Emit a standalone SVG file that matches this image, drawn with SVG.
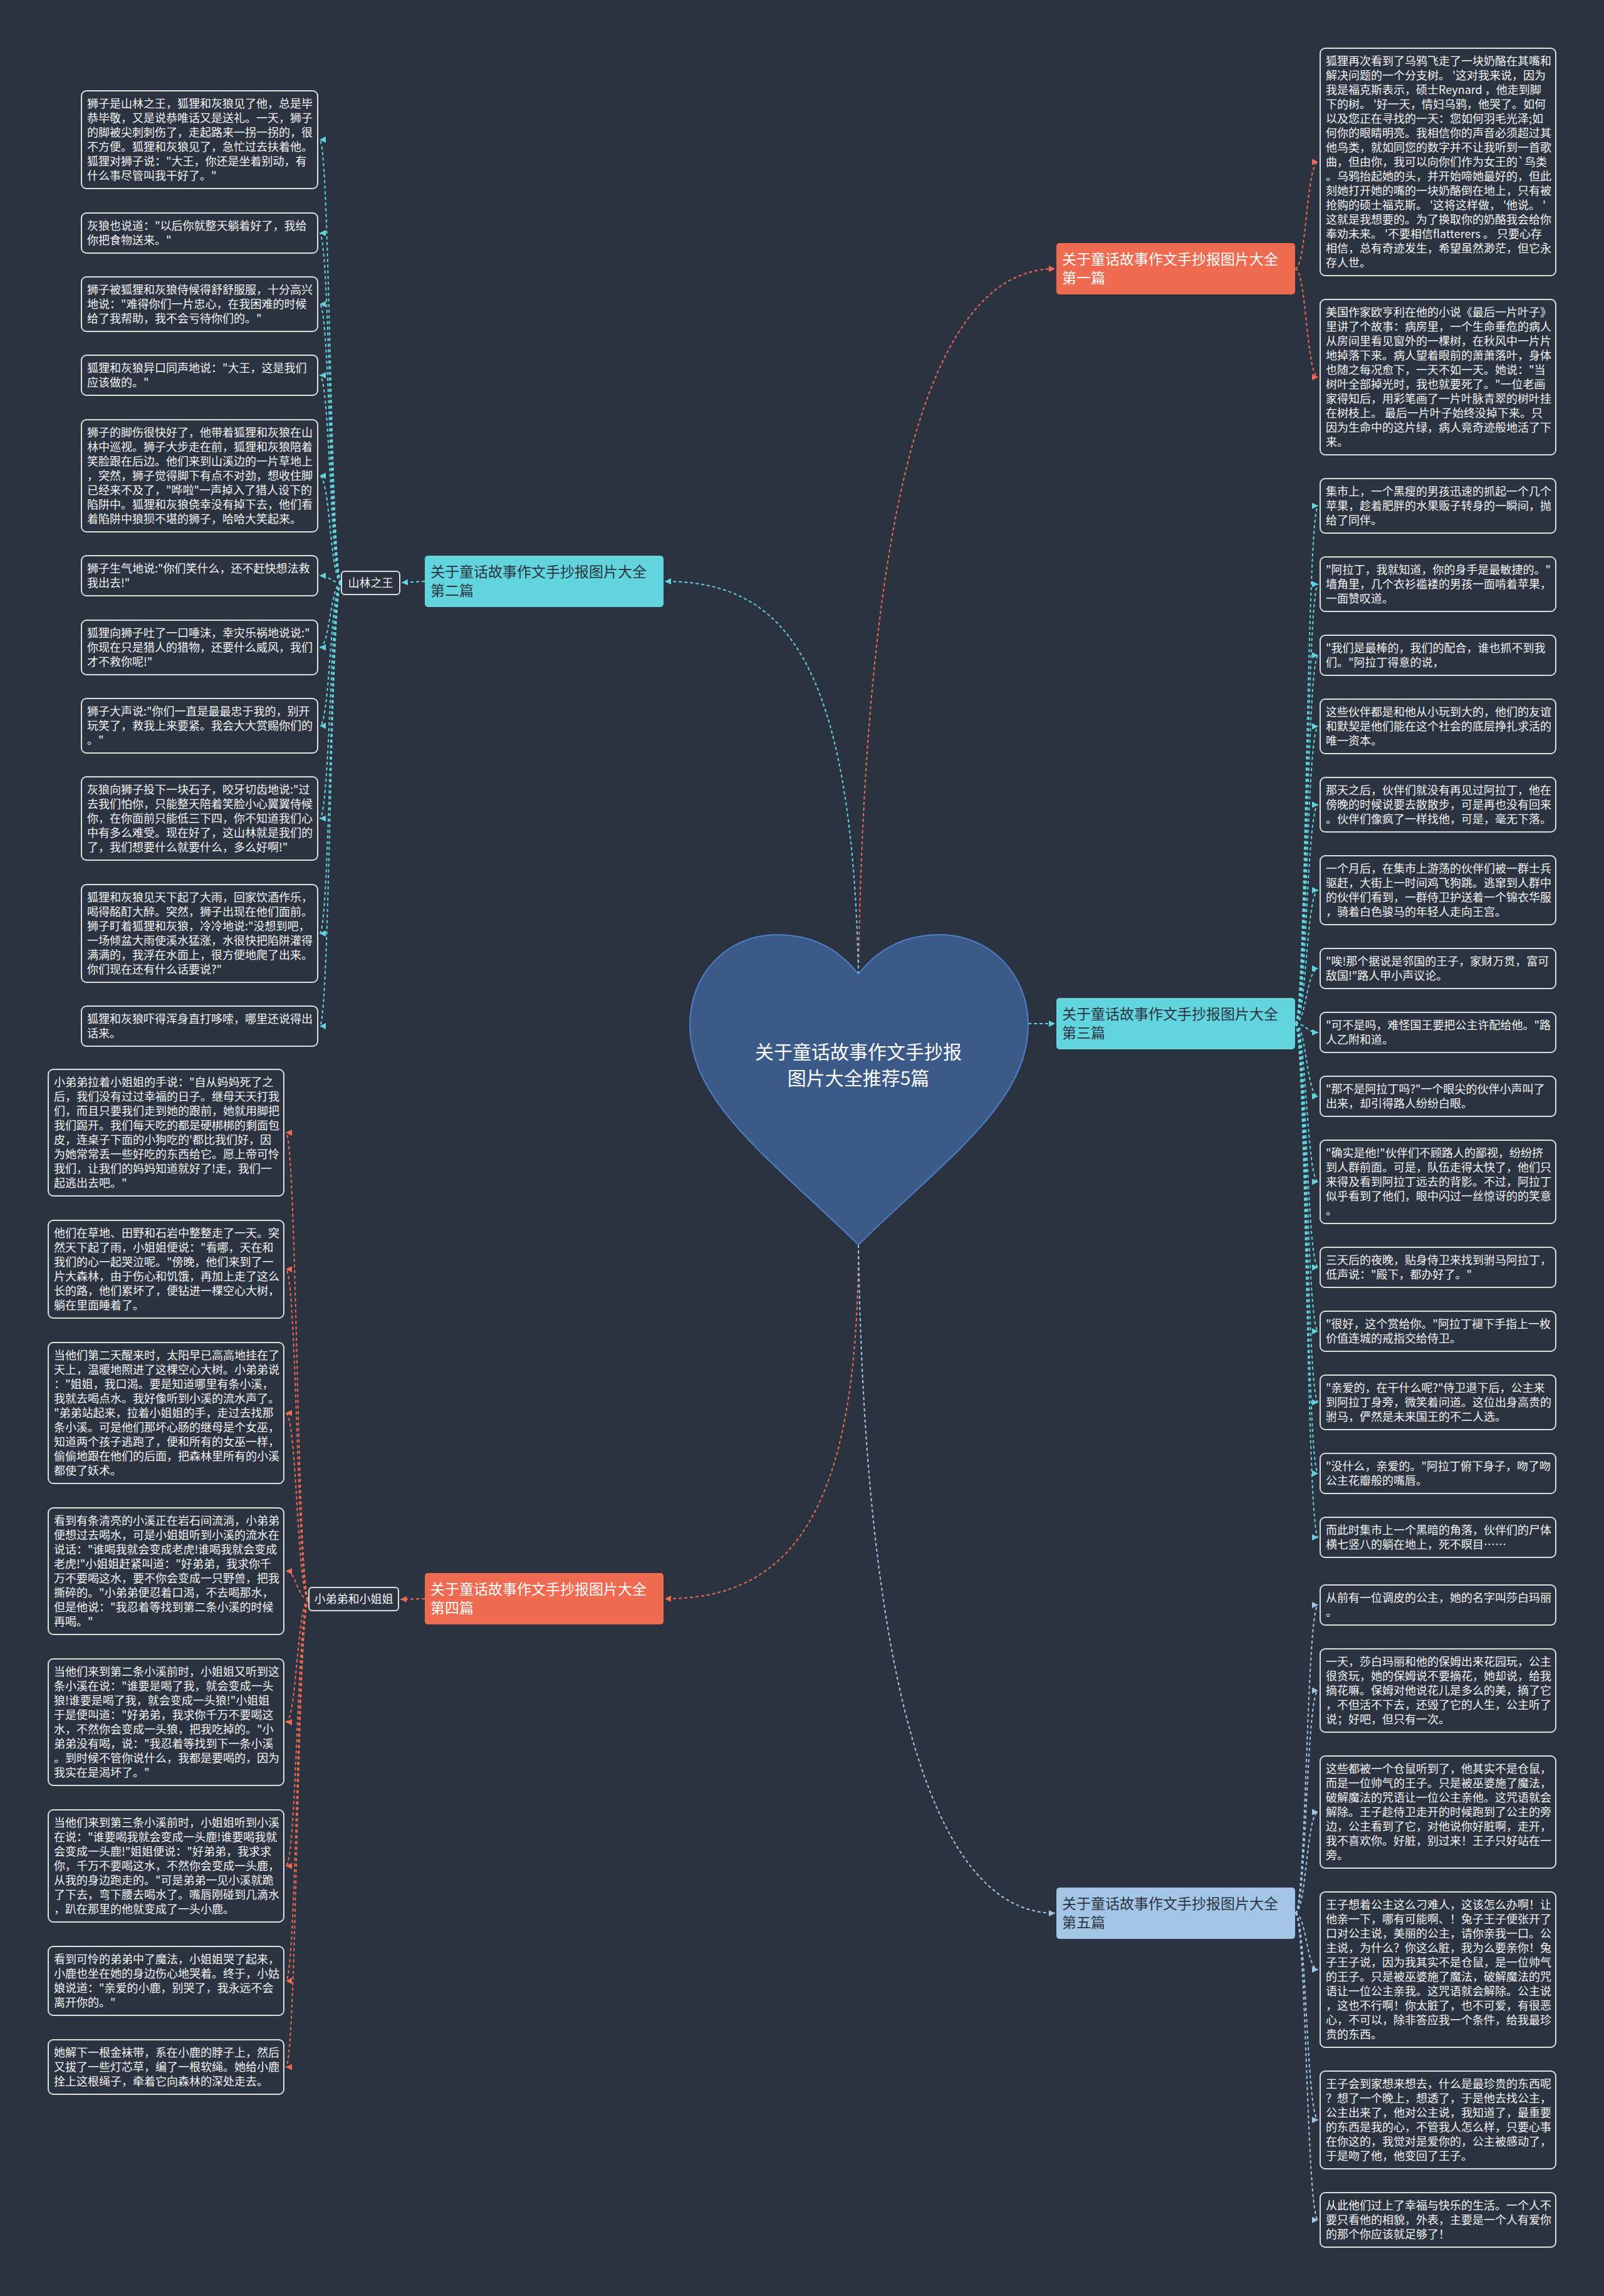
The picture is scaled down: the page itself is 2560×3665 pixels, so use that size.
<svg xmlns="http://www.w3.org/2000/svg" width="2560" height="3665" viewBox="0 0 2560 3665">
<style>
text{font-family:"Noto Sans CJK SC","Noto Sans",sans-serif}
.bg{fill:#2c3340}
.leaf rect{fill:#2c3340;stroke:#dedede;stroke-width:2}
.leaf text{font-size:18px;fill:#f2f2f2}
.lab rect{fill:#2c3340;stroke:#dedede;stroke-width:2}
.lab text{font-size:18px;fill:#f2f2f2;text-anchor:middle}
.br text{font-size:23px}
.red rect{fill:#ee6a50}
.red text{fill:#ffffff}
.cyan rect{fill:#62d4de}
.cyan text{fill:#2c3340}
.lblue rect{fill:#a3c6e6}
.lblue text{fill:#2c3340}
.c{fill:none;stroke-width:2;stroke-dasharray:5 4}
.cr{stroke:#ee6a50;marker-end:url(#mr)}
.cc{stroke:#62d4de;marker-end:url(#mc)}
.cb{stroke:#a3c6e6;marker-end:url(#mb)}
.heart text{font-size:30px;fill:#ffffff;text-anchor:middle}
</style>
<defs>
<marker id="mr" viewBox="0 0 10 10" refX="10" refY="5" markerWidth="10" markerHeight="11" markerUnits="userSpaceOnUse" orient="auto"><path d="M0,0 L10,5 L0,10 z" fill="#ee6a50"/></marker>
<marker id="mc" viewBox="0 0 10 10" refX="10" refY="5" markerWidth="10" markerHeight="11" markerUnits="userSpaceOnUse" orient="auto"><path d="M0,0 L10,5 L0,10 z" fill="#62d4de"/></marker>
<marker id="mb" viewBox="0 0 10 10" refX="10" refY="5" markerWidth="10" markerHeight="11" markerUnits="userSpaceOnUse" orient="auto"><path d="M0,0 L10,5 L0,10 z" fill="#a3c6e6"/></marker>
</defs>
<rect class="bg" x="0" y="0" width="2560" height="3665"/>

<g id="connectors">
<path class="c cr" d="M1370,1555 C1380,900 1460,429 1684,429"/>
<path class="c cc" d="M1370,1555 C1360,1050 1250,928 1061,928"/>
<path class="c cc" d="M1641,1634 C1660,1634 1665,1634 1684,1634"/>
<path class="c cr" d="M1370,1987 C1370,2420 1260,2552 1061,2552"/>
<path class="c cb" d="M1370,1987 C1380,2650 1480,3054 1684,3054"/>

<path class="c cr" d="M2067,429 C2085,429 2085,258.5 2104,258.5"/>
<path class="c cr" d="M2067,429 C2085,429 2085,602 2104,602"/>

<path class="c cc" d="M678,928 L641,930"/>
<path class="c cc" d="M545,930 C527,930 527,223 510,223"/>
<path class="c cc" d="M545,930 C527,930 527,372 510,372"/>
<path class="c cc" d="M545,930 C527,930 527,485.5 510,485.5"/>
<path class="c cc" d="M545,930 C527,930 527,599 510,599"/>
<path class="c cc" d="M545,930 C527,930 527,759.5 510,759.5"/>
<path class="c cc" d="M545,930 C527,930 527,919 510,919"/>
<path class="c cc" d="M545,930 C527,930 527,1033.5 510,1033.5"/>
<path class="c cc" d="M545,930 C527,930 527,1158.5 510,1158.5"/>
<path class="c cc" d="M545,930 C527,930 527,1306.5 510,1306.5"/>
<path class="c cc" d="M545,930 C527,930 527,1490 510,1490"/>
<path class="c cc" d="M545,930 C527,930 527,1638 510,1638"/>

<path class="c cc" d="M2067,1634 C2085,1634 2085,807.5 2104,807.5"/>
<path class="c cc" d="M2067,1634 C2085,1634 2085,932.5 2104,932.5"/>
<path class="c cc" d="M2067,1634 C2085,1634 2085,1046 2104,1046"/>
<path class="c cc" d="M2067,1634 C2085,1634 2085,1159.5 2104,1159.5"/>
<path class="c cc" d="M2067,1634 C2085,1634 2085,1284.5 2104,1284.5"/>
<path class="c cc" d="M2067,1634 C2085,1634 2085,1421 2104,1421"/>
<path class="c cc" d="M2067,1634 C2085,1634 2085,1546 2104,1546"/>
<path class="c cc" d="M2067,1634 C2085,1634 2085,1648 2104,1648"/>
<path class="c cc" d="M2067,1634 C2085,1634 2085,1750 2104,1750"/>
<path class="c cc" d="M2067,1634 C2085,1634 2085,1886.5 2104,1886.5"/>
<path class="c cc" d="M2067,1634 C2085,1634 2085,2023 2104,2023"/>
<path class="c cc" d="M2067,1634 C2085,1634 2085,2125 2104,2125"/>
<path class="c cc" d="M2067,1634 C2085,1634 2085,2238.5 2104,2238.5"/>
<path class="c cc" d="M2067,1634 C2085,1634 2085,2352 2104,2352"/>
<path class="c cc" d="M2067,1634 C2085,1634 2085,2454 2104,2454"/>

<path class="c cr" d="M678,2552 L639,2553"/>
<path class="c cr" d="M493,2553 C474,2553 474,1808 456,1808"/>
<path class="c cr" d="M493,2553 C474,2553 474,2026 456,2026"/>
<path class="c cr" d="M493,2553 C474,2553 474,2255.5 456,2255.5"/>
<path class="c cr" d="M493,2553 C474,2553 474,2508 456,2508"/>
<path class="c cr" d="M493,2553 C474,2553 474,2749 456,2749"/>
<path class="c cr" d="M493,2553 C474,2553 474,2978.5 456,2978.5"/>
<path class="c cr" d="M493,2553 C474,2553 474,3162 456,3162"/>
<path class="c cr" d="M493,2553 C474,2553 474,3299.5 456,3299.5"/>

<path class="c cb" d="M2067,3054 C2085,3054 2085,2562 2104,2562"/>
<path class="c cb" d="M2067,3054 C2085,3054 2085,2698.5 2104,2698.5"/>
<path class="c cb" d="M2067,3054 C2085,3054 2085,2892.5 2104,2892.5"/>
<path class="c cb" d="M2067,3054 C2085,3054 2085,3144 2104,3144"/>
<path class="c cb" d="M2067,3054 C2085,3054 2085,3384 2104,3384"/>
<path class="c cb" d="M2067,3054 C2085,3054 2085,3543.5 2104,3543.5"/>
</g>

<g id="root" class="heart">
<path d="M1370,1555 C1335,1510 1290,1492 1240,1492 C1160,1492 1101,1555 1101,1636 C1101,1760 1230,1850 1370,1987 C1510,1850 1641,1760 1641,1636 C1641,1555 1580,1492 1500,1492 C1450,1492 1405,1510 1370,1555 Z" fill="#3c5a87" stroke="#4d7fcb" stroke-width="2"/>
<text x="1370" y="1690">关于童话故事作文手抄报</text>
<text x="1370" y="1732">图片大全推荐5篇</text>
</g>

<g id="branch1" class="br red"><rect x="1686" y="388" width="381" height="82" rx="5"/><text x="1695" y="422">关于童话故事作文手抄报图片大全<tspan x="1695" dy="30">第一篇</tspan></text></g>
<g id="branch2" class="br cyan"><rect x="678" y="887" width="381" height="82" rx="5"/><text x="687" y="921">关于童话故事作文手抄报图片大全<tspan x="687" dy="30">第二篇</tspan></text></g>
<g id="branch3" class="br cyan"><rect x="1686" y="1593" width="381" height="82" rx="5"/><text x="1695" y="1627">关于童话故事作文手抄报图片大全<tspan x="1695" dy="30">第三篇</tspan></text></g>
<g id="branch4" class="br red"><rect x="678" y="2511" width="381" height="82" rx="5"/><text x="687" y="2545">关于童话故事作文手抄报图片大全<tspan x="687" dy="30">第四篇</tspan></text></g>
<g id="branch5" class="br lblue"><rect x="1686" y="3013" width="381" height="82" rx="5"/><text x="1695" y="3047">关于童话故事作文手抄报图片大全<tspan x="1695" dy="30">第五篇</tspan></text></g>

<g id="label2" class="lab"><rect x="545" y="912" width="93" height="37" rx="5"/><text x="591.5" y="937">山林之王</text></g>
<g id="label4" class="lab"><rect x="493" y="2534" width="143" height="37" rx="5"/><text x="564.5" y="2559">小弟弟和小姐姐</text></g>

<g id="L1" class="leaf"><rect x="130" y="145" width="377" height="156" rx="8"/><text x="139" y="171.5">狮子是山林之王，狐狸和灰狼见了他，总是毕<tspan x="139" dy="23">恭毕敬，又是说恭唯话又是送礼。一天，狮子</tspan><tspan x="139" dy="23">的脚被尖刺刺伤了，走起路来一拐一拐的，很</tspan><tspan x="139" dy="23">不方便。狐狸和灰狼见了，急忙过去扶着他。</tspan><tspan x="139" dy="23">狐狸对狮子说："大王，你还是坐着别动，有</tspan><tspan x="139" dy="23">什么事尽管叫我干好了。"</tspan></text></g>
<g id="L2" class="leaf"><rect x="130" y="340" width="377" height="64" rx="8"/><text x="139" y="366.5">灰狼也说道："以后你就整天躺着好了，我给<tspan x="139" dy="23">你把食物送来。"</tspan></text></g>
<g id="L3" class="leaf"><rect x="130" y="442" width="377" height="87" rx="8"/><text x="139" y="468.5">狮子被狐狸和灰狼侍候得舒舒服服，十分高兴<tspan x="139" dy="23">地说："难得你们一片忠心，在我困难的时候</tspan><tspan x="139" dy="23">给了我帮助，我不会亏待你们的。"</tspan></text></g>
<g id="L4" class="leaf"><rect x="130" y="567" width="377" height="64" rx="8"/><text x="139" y="593.5">狐狸和灰狼异口同声地说："大王，这是我们<tspan x="139" dy="23">应该做的。"</tspan></text></g>
<g id="L5" class="leaf"><rect x="130" y="670" width="377" height="179" rx="8"/><text x="139" y="696.5">狮子的脚伤很快好了，他带着狐狸和灰狼在山<tspan x="139" dy="23">林中巡视。狮子大步走在前，狐狸和灰狼陪着</tspan><tspan x="139" dy="23">笑脸跟在后边。他们来到山溪边的一片草地上</tspan><tspan x="139" dy="23">，突然，狮子觉得脚下有点不对劲，想收住脚</tspan><tspan x="139" dy="23">已经来不及了，"哗啦"一声掉入了猎人设下的</tspan><tspan x="139" dy="23">陷阱中。狐狸和灰狼侥幸没有掉下去，他们看</tspan><tspan x="139" dy="23">着陷阱中狼狈不堪的狮子，哈哈大笑起来。</tspan></text></g>
<g id="L6" class="leaf"><rect x="130" y="887" width="377" height="64" rx="8"/><text x="139" y="913.5">狮子生气地说:"你们笑什么，还不赶快想法救<tspan x="139" dy="23">我出去!"</tspan></text></g>
<g id="L7" class="leaf"><rect x="130" y="990" width="377" height="87" rx="8"/><text x="139" y="1016.5">狐狸向狮子吐了一口唾沫，幸灾乐祸地说说:"<tspan x="139" dy="23">你现在只是猎人的猎物，还要什么威风，我们</tspan><tspan x="139" dy="23">才不救你呢!"</tspan></text></g>
<g id="L8" class="leaf"><rect x="130" y="1115" width="377" height="87" rx="8"/><text x="139" y="1141.5">狮子大声说:"你们一直是最最忠于我的，别开<tspan x="139" dy="23">玩笑了，救我上来要紧。我会大大赏赐你们的</tspan><tspan x="139" dy="23">。"</tspan></text></g>
<g id="L9" class="leaf"><rect x="130" y="1240" width="377" height="133" rx="8"/><text x="139" y="1266.5">灰狼向狮子投下一块石子，咬牙切齿地说:"过<tspan x="139" dy="23">去我们怕你，只能整天陪着笑脸小心翼翼侍候</tspan><tspan x="139" dy="23">你，在你面前只能低三下四，你不知道我们心</tspan><tspan x="139" dy="23">中有多么难受。现在好了，这山林就是我们的</tspan><tspan x="139" dy="23">了，我们想要什么就要什么，多么好啊!"</tspan></text></g>
<g id="L10" class="leaf"><rect x="130" y="1412" width="377" height="156" rx="8"/><text x="139" y="1438.5">狐狸和灰狼见天下起了大雨，回家饮酒作乐，<tspan x="139" dy="23">喝得酩酊大醉。突然，狮子出现在他们面前。</tspan><tspan x="139" dy="23">狮子盯着狐狸和灰狼，冷冷地说:"没想到吧，</tspan><tspan x="139" dy="23">一场倾盆大雨使溪水猛涨，水很快把陷阱灌得</tspan><tspan x="139" dy="23">满满的，我浮在水面上，很方便地爬了出来。</tspan><tspan x="139" dy="23">你们现在还有什么话要说?"</tspan></text></g>
<g id="L11" class="leaf"><rect x="130" y="1606" width="377" height="64" rx="8"/><text x="139" y="1632.5">狐狸和灰狼吓得浑身直打哆嗦，哪里还说得出<tspan x="139" dy="23">话来。</tspan></text></g>

<g id="B1" class="leaf"><rect x="77" y="1707" width="376" height="202" rx="8"/><text x="86" y="1733.5">小弟弟拉着小姐姐的手说："自从妈妈死了之<tspan x="86" dy="23">后，我们没有过过幸福的日子。继母天天打我</tspan><tspan x="86" dy="23">们，而且只要我们走到她的跟前，她就用脚把</tspan><tspan x="86" dy="23">我们踢开。我们每天吃的都是硬梆梆的剩面包</tspan><tspan x="86" dy="23">皮，连桌子下面的小狗吃的'都比我们好，因</tspan><tspan x="86" dy="23">为她常常丢一些好吃的东西给它。愿上帝可怜</tspan><tspan x="86" dy="23">我们，让我们的妈妈知道就好了!走，我们一</tspan><tspan x="86" dy="23">起逃出去吧。"</tspan></text></g>
<g id="B2" class="leaf"><rect x="77" y="1948" width="376" height="156" rx="8"/><text x="86" y="1974.5">他们在草地、田野和石岩中整整走了一天。突<tspan x="86" dy="23">然天下起了雨，小姐姐便说："看哪，天在和</tspan><tspan x="86" dy="23">我们的心一起哭泣呢。"傍晚，他们来到了一</tspan><tspan x="86" dy="23">片大森林，由于伤心和饥饿，再加上走了这么</tspan><tspan x="86" dy="23">长的路，他们累坏了，便钻进一棵空心大树，</tspan><tspan x="86" dy="23">躺在里面睡着了。</tspan></text></g>
<g id="B3" class="leaf"><rect x="77" y="2143" width="376" height="225" rx="8"/><text x="86" y="2169.5">当他们第二天醒来时，太阳早已高高地挂在了<tspan x="86" dy="23">天上，温暖地照进了这棵空心大树。小弟弟说</tspan><tspan x="86" dy="23">："姐姐，我口渴。要是知道哪里有条小溪，</tspan><tspan x="86" dy="23">我就去喝点水。我好像听到小溪的流水声了。</tspan><tspan x="86" dy="23">"弟弟站起来，拉着小姐姐的手，走过去找那</tspan><tspan x="86" dy="23">条小溪。可是他们那坏心肠的继母是个女巫，</tspan><tspan x="86" dy="23">知道两个孩子逃跑了，便和所有的女巫一样，</tspan><tspan x="86" dy="23">偷偷地跟在他们的后面，把森林里所有的小溪</tspan><tspan x="86" dy="23">都使了妖术。</tspan></text></g>
<g id="B4" class="leaf"><rect x="77" y="2407" width="376" height="202" rx="8"/><text x="86" y="2433.5">看到有条清亮的小溪正在岩石间流淌，小弟弟<tspan x="86" dy="23">便想过去喝水，可是小姐姐听到小溪的流水在</tspan><tspan x="86" dy="23">说话："谁喝我就会变成老虎!谁喝我就会变成</tspan><tspan x="86" dy="23">老虎!"小姐姐赶紧叫道："好弟弟，我求你千</tspan><tspan x="86" dy="23">万不要喝这水，要不你会变成一只野兽，把我</tspan><tspan x="86" dy="23">撕碎的。"小弟弟便忍着口渴，不去喝那水，</tspan><tspan x="86" dy="23">但是他说："我忍着等找到第二条小溪的时候</tspan><tspan x="86" dy="23">再喝。"</tspan></text></g>
<g id="B5" class="leaf"><rect x="77" y="2648" width="376" height="202" rx="8"/><text x="86" y="2674.5">当他们来到第二条小溪前时，小姐姐又听到这<tspan x="86" dy="23">条小溪在说："谁要是喝了我，就会变成一头</tspan><tspan x="86" dy="23">狼!谁要是喝了我，就会变成一头狼!"小姐姐</tspan><tspan x="86" dy="23">于是便叫道："好弟弟，我求你千万不要喝这</tspan><tspan x="86" dy="23">水，不然你会变成一头狼，把我吃掉的。"小</tspan><tspan x="86" dy="23">弟弟没有喝，说："我忍着等找到下一条小溪</tspan><tspan x="86" dy="23">。到时候不管你说什么，我都是要喝的，因为</tspan><tspan x="86" dy="23">我实在是渴坏了。"</tspan></text></g>
<g id="B6" class="leaf"><rect x="77" y="2889" width="376" height="179" rx="8"/><text x="86" y="2915.5">当他们来到第三条小溪前时，小姐姐听到小溪<tspan x="86" dy="23">在说："谁要喝我就会变成一头鹿!谁要喝我就</tspan><tspan x="86" dy="23">会变成一头鹿!"姐姐便说："好弟弟，我求求</tspan><tspan x="86" dy="23">你，千万不要喝这水，不然你会变成一头鹿，</tspan><tspan x="86" dy="23">从我的身边跑走的。"可是弟弟一见小溪就跪</tspan><tspan x="86" dy="23">了下去，弯下腰去喝水了。嘴唇刚碰到几滴水</tspan><tspan x="86" dy="23">，趴在那里的他就变成了一头小鹿。</tspan></text></g>
<g id="B7" class="leaf"><rect x="77" y="3107" width="376" height="110" rx="8"/><text x="86" y="3133.5">看到可怜的弟弟中了魔法，小姐姐哭了起来，<tspan x="86" dy="23">小鹿也坐在她的身边伤心地哭着。终于，小姑</tspan><tspan x="86" dy="23">娘说道："亲爱的小鹿，别哭了，我永远不会</tspan><tspan x="86" dy="23">离开你的。"</tspan></text></g>
<g id="B8" class="leaf"><rect x="77" y="3256" width="376" height="87" rx="8"/><text x="86" y="3282.5">她解下一根金袜带，系在小鹿的脖子上，然后<tspan x="86" dy="23">又拔了一些灯芯草，编了一根软绳。她给小鹿</tspan><tspan x="86" dy="23">拴上这根绳子，牵着它向森林的深处走去。</tspan></text></g>

<g id="R1" class="leaf"><rect x="2107" y="77" width="376" height="363" rx="8"/><text x="2116" y="103.5">狐狸再次看到了乌鸦飞走了一块奶酪在其嘴和<tspan x="2116" dy="23">解决问题的一个分支树。 '这对我来说，因为</tspan><tspan x="2116" dy="23">我是福克斯表示，硕士Reynard ，他走到脚</tspan><tspan x="2116" dy="23">下的树。 '好一天，情妇乌鸦，他哭了。如何</tspan><tspan x="2116" dy="23">以及您正在寻找的一天：您如何羽毛光泽;如</tspan><tspan x="2116" dy="23">何你的眼睛明亮。我相信你的声音必须超过其</tspan><tspan x="2116" dy="23">他鸟类，就如同您的数字并不让我听到一首歌</tspan><tspan x="2116" dy="23">曲，但由你，我可以向你们作为女王的`鸟类</tspan><tspan x="2116" dy="23">。乌鸦抬起她的头，并开始啼她最好的，但此</tspan><tspan x="2116" dy="23">刻她打开她的嘴的一块奶酪倒在地上，只有被</tspan><tspan x="2116" dy="23">抢购的硕士福克斯。 '这将这样做， '他说。 '</tspan><tspan x="2116" dy="23">这就是我想要的。为了换取你的奶酪我会给你</tspan><tspan x="2116" dy="23">奉劝未来。 '不要相信flatterers 。 只要心存</tspan><tspan x="2116" dy="23">相信，总有奇迹发生，希望虽然渺茫，但它永</tspan><tspan x="2116" dy="23">存人世。</tspan></text></g>
<g id="R2" class="leaf"><rect x="2107" y="478" width="376" height="248" rx="8"/><text x="2116" y="504.5">美国作家欧亨利在他的小说《最后一片叶子》<tspan x="2116" dy="23">里讲了个故事：病房里，一个生命垂危的病人</tspan><tspan x="2116" dy="23">从房间里看见窗外的一棵树，在秋风中一片片</tspan><tspan x="2116" dy="23">地掉落下来。病人望着眼前的萧萧落叶，身体</tspan><tspan x="2116" dy="23">也随之每况愈下，一天不如一天。她说："当</tspan><tspan x="2116" dy="23">树叶全部掉光时，我也就要死了。"一位老画</tspan><tspan x="2116" dy="23">家得知后，用彩笔画了一片叶脉青翠的树叶挂</tspan><tspan x="2116" dy="23">在树枝上。 最后一片叶子始终没掉下来。只</tspan><tspan x="2116" dy="23">因为生命中的这片绿，病人竟奇迹般地活了下</tspan><tspan x="2116" dy="23">来。</tspan></text></g>
<g id="R3" class="leaf"><rect x="2107" y="764" width="376" height="87" rx="8"/><text x="2116" y="790.5">集市上，一个黑瘦的男孩迅速的抓起一个几个<tspan x="2116" dy="23">苹果，趁着肥胖的水果贩子转身的一瞬间，抛</tspan><tspan x="2116" dy="23">给了同伴。</tspan></text></g>
<g id="R4" class="leaf"><rect x="2107" y="889" width="376" height="87" rx="8"/><text x="2116" y="915.5">"阿拉丁，我就知道，你的身手是最敏捷的。"<tspan x="2116" dy="23">墙角里，几个衣衫褴褛的男孩一面啃着苹果，</tspan><tspan x="2116" dy="23">一面赞叹道。</tspan></text></g>
<g id="R5" class="leaf"><rect x="2107" y="1014" width="376" height="64" rx="8"/><text x="2116" y="1040.5">"我们是最棒的，我们的配合，谁也抓不到我<tspan x="2116" dy="23">们。"阿拉丁得意的说，</tspan></text></g>
<g id="R6" class="leaf"><rect x="2107" y="1116" width="376" height="87" rx="8"/><text x="2116" y="1142.5">这些伙伴都是和他从小玩到大的，他们的友谊<tspan x="2116" dy="23">和默契是他们能在这个社会的底层挣扎求活的</tspan><tspan x="2116" dy="23">唯一资本。</tspan></text></g>
<g id="R7" class="leaf"><rect x="2107" y="1241" width="376" height="87" rx="8"/><text x="2116" y="1267.5">那天之后，伙伴们就没有再见过阿拉丁，他在<tspan x="2116" dy="23">傍晚的时候说要去散散步，可是再也没有回来</tspan><tspan x="2116" dy="23">。伙伴们像疯了一样找他，可是，毫无下落。</tspan></text></g>
<g id="R8" class="leaf"><rect x="2107" y="1366" width="376" height="110" rx="8"/><text x="2116" y="1392.5">一个月后，在集市上游荡的伙伴们被一群士兵<tspan x="2116" dy="23">驱赶，大街上一时间鸡飞狗跳。逃窜到人群中</tspan><tspan x="2116" dy="23">的伙伴们看到，一群侍卫护送着一个锦衣华服</tspan><tspan x="2116" dy="23">，骑着白色骏马的年轻人走向王宫。</tspan></text></g>
<g id="R9" class="leaf"><rect x="2107" y="1514" width="376" height="64" rx="8"/><text x="2116" y="1540.5">"唉!那个据说是邻国的王子，家财万贯，富可<tspan x="2116" dy="23">敌国!"路人甲小声议论。</tspan></text></g>
<g id="R10" class="leaf"><rect x="2107" y="1616" width="376" height="64" rx="8"/><text x="2116" y="1642.5">"可不是吗，难怪国王要把公主许配给他。"路<tspan x="2116" dy="23">人乙附和道。</tspan></text></g>
<g id="R11" class="leaf"><rect x="2107" y="1718" width="376" height="64" rx="8"/><text x="2116" y="1744.5">"那不是阿拉丁吗?"一个眼尖的伙伴小声叫了<tspan x="2116" dy="23">出来，却引得路人纷纷白眼。</tspan></text></g>
<g id="R12" class="leaf"><rect x="2107" y="1820" width="376" height="133" rx="8"/><text x="2116" y="1846.5">"确实是他!"伙伴们不顾路人的鄙视，纷纷挤<tspan x="2116" dy="23">到人群前面。可是，队伍走得太快了，他们只</tspan><tspan x="2116" dy="23">来得及看到阿拉丁远去的背影。不过，阿拉丁</tspan><tspan x="2116" dy="23">似乎看到了他们，眼中闪过一丝惊讶的的笑意</tspan><tspan x="2116" dy="23">。</tspan></text></g>
<g id="R13" class="leaf"><rect x="2107" y="1991" width="376" height="64" rx="8"/><text x="2116" y="2017.5">三天后的夜晚，贴身侍卫来找到驸马阿拉丁，<tspan x="2116" dy="23">低声说："殿下，都办好了。"</tspan></text></g>
<g id="R14" class="leaf"><rect x="2107" y="2093" width="376" height="64" rx="8"/><text x="2116" y="2119.5">"很好，这个赏给你。"阿拉丁褪下手指上一枚<tspan x="2116" dy="23">价值连城的戒指交给侍卫。</tspan></text></g>
<g id="R15" class="leaf"><rect x="2107" y="2195" width="376" height="87" rx="8"/><text x="2116" y="2221.5">"亲爱的，在干什么呢?"侍卫退下后，公主来<tspan x="2116" dy="23">到阿拉丁身旁，微笑着问道。这位出身高贵的</tspan><tspan x="2116" dy="23">驸马，俨然是未来国王的不二人选。</tspan></text></g>
<g id="R16" class="leaf"><rect x="2107" y="2320" width="376" height="64" rx="8"/><text x="2116" y="2346.5">"没什么，亲爱的。"阿拉丁俯下身子，吻了吻<tspan x="2116" dy="23">公主花瓣般的嘴唇。</tspan></text></g>
<g id="R17" class="leaf"><rect x="2107" y="2422" width="376" height="64" rx="8"/><text x="2116" y="2448.5">而此时集市上一个黑暗的角落，伙伴们的尸体<tspan x="2116" dy="23">横七竖八的躺在地上，死不瞑目……</tspan></text></g>
<g id="R18" class="leaf"><rect x="2107" y="2530" width="376" height="64" rx="8"/><text x="2116" y="2556.5">从前有一位调皮的公主，她的名字叫莎白玛丽<tspan x="2116" dy="23">。</tspan></text></g>
<g id="R19" class="leaf"><rect x="2107" y="2632" width="376" height="133" rx="8"/><text x="2116" y="2658.5">一天，莎白玛丽和他的保姆出来花园玩，公主<tspan x="2116" dy="23">很贪玩，她的保姆说不要摘花，她却说，给我</tspan><tspan x="2116" dy="23">摘花嘛。保姆对他说花儿是多么的美，摘了它</tspan><tspan x="2116" dy="23">，不但活不下去，还毁了它的人生，公主听了</tspan><tspan x="2116" dy="23">说；好吧，但只有一次。</tspan></text></g>
<g id="R20" class="leaf"><rect x="2107" y="2803" width="376" height="179" rx="8"/><text x="2116" y="2829.5">这些都被一个仓鼠听到了，他其实不是仓鼠，<tspan x="2116" dy="23">而是一位帅气的王子。只是被巫婆施了魔法，</tspan><tspan x="2116" dy="23">破解魔法的咒语让一位公主亲他。这咒语就会</tspan><tspan x="2116" dy="23">解除。王子趁侍卫走开的时候跑到了公主的旁</tspan><tspan x="2116" dy="23">边，公主看到了它，对他说你好脏啊，走开，</tspan><tspan x="2116" dy="23">我不喜欢你。好脏，别过来！王子只好站在一</tspan><tspan x="2116" dy="23">旁。</tspan></text></g>
<g id="R21" class="leaf"><rect x="2107" y="3020" width="376" height="248" rx="8"/><text x="2116" y="3046.5">王子想着公主这么刁难人，这该怎么办啊！让<tspan x="2116" dy="23">他亲一下，哪有可能啊、！兔子王子便张开了</tspan><tspan x="2116" dy="23">口对公主说，美丽的公主，请你亲我一口。公</tspan><tspan x="2116" dy="23">主说，为什么？你这么脏，我为么要亲你！兔</tspan><tspan x="2116" dy="23">子王子说，因为我其实不是仓鼠，是一位帅气</tspan><tspan x="2116" dy="23">的王子。只是被巫婆施了魔法，破解魔法的咒</tspan><tspan x="2116" dy="23">语让一位公主亲我。这咒语就会解除。公主说</tspan><tspan x="2116" dy="23">，这也不行啊！你太脏了，也不可爱，有很恶</tspan><tspan x="2116" dy="23">心，不可以，除非答应我一个条件，给我最珍</tspan><tspan x="2116" dy="23">贵的东西。</tspan></text></g>
<g id="R22" class="leaf"><rect x="2107" y="3306" width="376" height="156" rx="8"/><text x="2116" y="3332.5">王子会到家想来想去，什么是最珍贵的东西呢<tspan x="2116" dy="23">？想了一个晚上，想透了，于是他去找公主，</tspan><tspan x="2116" dy="23">公主出来了，他对公主说，我知道了，最重要</tspan><tspan x="2116" dy="23">的东西是我的心，不管我人怎么样，只要心事</tspan><tspan x="2116" dy="23">在你这的，我觉对是爱你的，公主被感动了，</tspan><tspan x="2116" dy="23">于是吻了他，他变回了王子。</tspan></text></g>
<g id="R23" class="leaf"><rect x="2107" y="3500" width="376" height="87" rx="8"/><text x="2116" y="3526.5">从此他们过上了幸福与快乐的生活。一个人不<tspan x="2116" dy="23">要只看他的相貌，外表，主要是一个人有爱你</tspan><tspan x="2116" dy="23">的那个你应该就足够了！</tspan></text></g>
</svg>
